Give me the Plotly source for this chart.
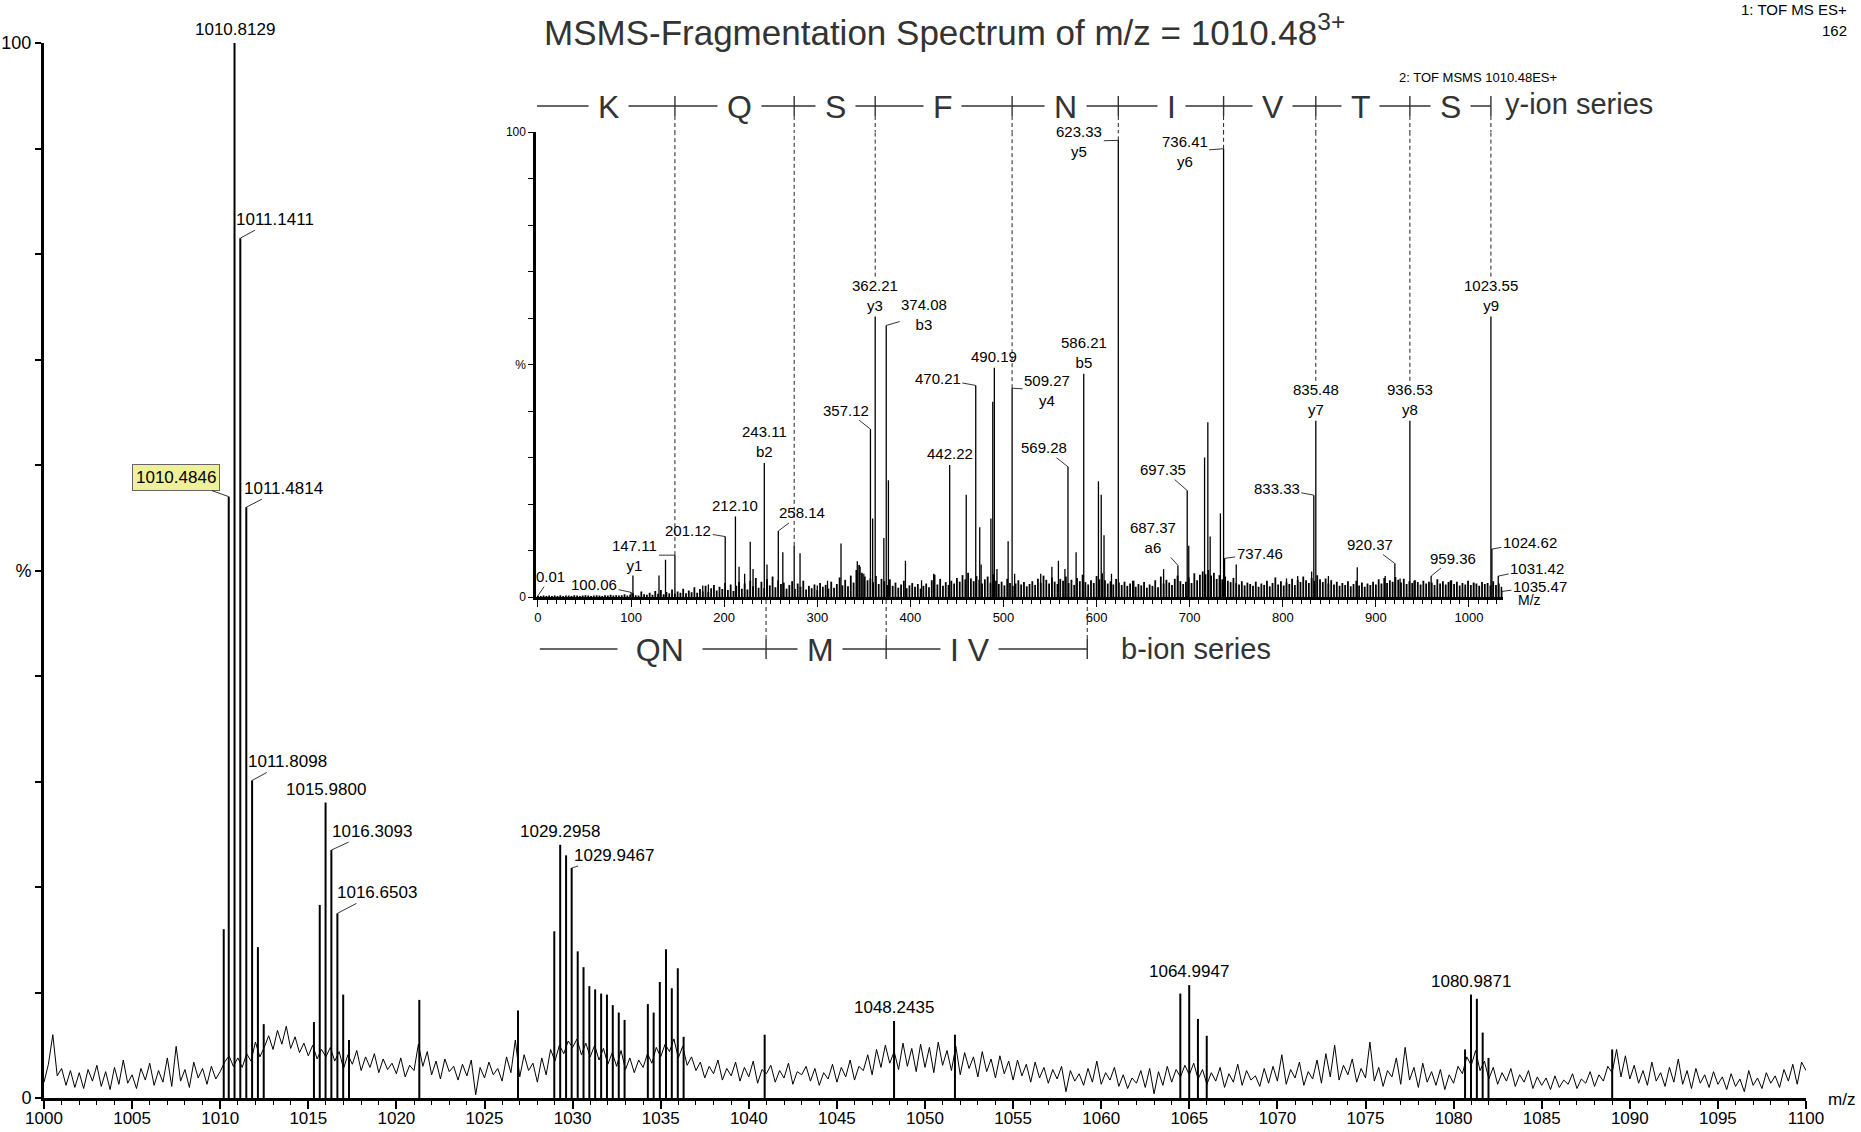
import plotly.graph_objects as go

W, H = 1861, 1132
FONT = "Liberation Sans, Arial, sans-serif"

# ---------------- main (MS survey) spectrum ----------------
main_noise_start = 1000.0
main_noise_step = 0.25
main_noise = [
    1.5, 3.2, 6.0, 2.1, 2.8, 1.2, 2.6, 1.0, 2.4, 0.9, 2.7, 1.6, 3.1, 1.1, 2.5, 0.8, 2.9, 1.3, 3.6, 1.4,
    2.2, 0.9, 2.8, 1.7, 3.3, 1.2, 2.6, 1.5, 3.8, 1.1, 4.9, 1.6, 2.7, 1.0, 3.4, 1.9, 2.8, 1.3, 3.0, 1.8,
    2.5, 3.4, 4.0, 3.0, 3.8, 2.9, 4.2, 3.5, 5.3, 3.9, 4.8, 5.9, 4.6, 6.4, 5.1, 6.8, 4.7, 5.8, 4.3, 5.2,
    4.0, 5.0, 3.7, 4.6, 3.9, 4.8, 3.5, 4.4, 2.8, 4.1, 3.2, 4.5, 2.6, 3.9, 2.9, 4.2, 2.4, 3.7, 2.7, 3.3,
    2.3, 3.8, 2.0, 3.1, 2.6, 5.1, 3.0, 4.4, 2.2, 3.5, 1.8, 3.7, 2.5, 3.0, 1.7, 3.2, 2.1, 3.6, 0.3, 2.9,
    1.9, 3.4, 2.2, 2.8, 1.6, 3.9, 2.4, 5.5, 2.0, 4.1, 2.6, 3.3, 1.5, 3.8, 2.2, 4.6, 3.5, 5.0, 4.2, 5.4,
    4.8, 5.6, 4.1, 5.2, 3.9, 5.0, 3.6, 4.7, 3.2, 4.3, 3.0, 4.5, 2.7, 3.8, 2.4, 3.6, 2.9, 4.2, 3.3, 4.8,
    3.9, 5.1, 4.4, 5.6, 3.8, 4.9, 3.1, 3.9, 2.6, 3.4, 1.9, 3.0, 2.3, 3.6, 1.7, 2.8, 2.1, 3.4, 1.6, 2.9,
    2.0, 3.5, 1.4, 2.7, 2.3, 3.1, 1.5, 2.6, 1.9, 3.3, 1.3, 2.5, 2.2, 3.0, 1.6, 2.8, 1.2, 2.4, 1.8, 3.2,
    1.5, 2.9, 2.0, 3.6, 1.7, 3.0, 2.6, 4.1, 2.2, 4.6, 2.9, 5.0, 3.3, 4.4, 2.7, 5.2, 3.0, 4.7, 2.5, 5.1,
    2.9, 4.8, 2.4, 5.3, 3.1, 4.5, 2.6, 4.9, 2.2, 4.3, 2.8, 3.9, 2.0, 4.4, 2.5, 3.7, 1.9, 4.0, 2.3, 3.5,
    1.7, 3.6, 2.1, 3.2, 1.5, 3.4, 1.9, 2.9, 1.4, 2.7, 1.8, 3.0, 0.6, 2.6, 1.6, 2.3, 1.2, 2.8, 1.5, 3.5,
    1.3, 2.4, 1.7, 2.9, 1.1, 2.2, 0.9, 1.9, 1.4, 2.6, 1.0, 2.8, 0.4, 2.5, 1.2, 3.0, 1.5, 2.7, 2.0, 3.1,
    2.2, 3.3, 1.8, 2.7, 1.3, 2.4, 1.6, 2.9, 1.0, 2.3, 1.5, 3.2, 1.2, 2.6, 1.7, 2.1, 1.1, 2.8, 1.4, 3.0,
    1.6, 4.1, 1.3, 2.7, 1.9, 3.4, 1.2, 2.5, 1.8, 3.6, 1.4, 4.2, 2.0, 5.0, 1.7, 3.1, 2.2, 3.7, 1.5, 2.8,
    1.9, 5.3, 1.6, 2.9, 1.1, 2.6, 2.0, 3.8, 1.3, 4.8, 1.7, 2.9, 1.0, 3.3, 1.5, 2.5, 1.2, 2.7, 0.8, 2.2,
    1.4, 3.0, 2.3, 3.9, 3.1, 4.5, 2.6, 3.5, 1.8, 2.9, 1.3, 2.4, 1.6, 2.8, 1.1, 2.2, 1.5, 2.6, 0.9, 2.0,
    1.2, 1.9, 0.8, 2.1, 1.0, 1.7, 1.3, 2.3, 0.9, 1.8, 1.4, 2.5, 1.1, 2.2, 1.6, 3.0, 2.4, 4.6, 2.0, 4.0,
    1.8, 3.1, 1.4, 2.6, 1.2, 3.4, 1.6, 2.4, 1.1, 2.9, 1.5, 3.7, 1.3, 2.6, 0.9, 2.8, 1.4, 2.2, 1.0, 2.5,
    1.3, 2.0, 0.8, 2.3, 1.1, 1.8, 0.6, 2.6, 1.2, 1.9, 0.9, 2.4, 1.4, 2.1, 1.0, 2.7, 1.6, 3.2, 1.3, 3.4,
    2.6,
]

main_peak_mz = [1010.2, 1010.4846, 1010.8129, 1011.1411, 1011.4814, 1011.8098, 1012.14, 1012.47,
                1015.32, 1015.65, 1015.9800, 1016.3093, 1016.6503, 1016.98, 1017.31,
                1021.3, 1026.9,
                1028.96, 1029.2958, 1029.63, 1029.9467, 1030.29, 1030.62, 1030.95, 1031.28, 1031.62,
                1031.95, 1032.28, 1032.62, 1032.95,
                1034.27, 1034.6, 1034.95, 1035.3, 1035.63, 1035.97, 1036.3,
                1040.9, 1048.2435, 1051.7,
                1064.49, 1064.9947, 1065.49, 1065.99,
                1080.65, 1080.9871, 1081.32, 1081.65, 1081.98,
                1089.0]
main_peak_int = [16.0, 57.0, 100.0, 81.5, 56.0, 30.1, 14.3, 7.0,
                 7.2, 18.3, 28.0, 23.5, 17.5, 9.8, 5.5,
                 9.3, 8.3,
                 15.8, 24.0, 23.0, 21.8, 13.9, 12.4, 10.6, 10.3, 9.9,
                 9.8, 8.8, 8.1, 7.4,
                 8.9, 8.1, 11.0, 14.1, 10.4, 12.3, 5.8,
                 6.0, 7.3, 6.0,
                 9.9, 10.7, 7.5, 5.9,
                 4.6, 9.8, 9.4, 6.2, 3.8,
                 4.6]
main_label_mz = [1010.8129, 1011.1411, 1010.4846, 1011.4814, 1011.8098, 1015.9800, 1016.3093,
                 1016.6503, 1029.2958, 1029.9467, 1048.2435, 1064.9947, 1080.9871]

# ---------------- inset (MSMS fragment) spectrum ----------------
inset_grass_start = 0.0
inset_grass_step = 3.0
inset_grass = [
    0.2, 0.2, 0.3, 0.2, 0.3, 0.2, 0.3, 0.2, 0.4, 0.2, 0.3, 0.3, 0.2, 0.4, 0.3, 0.2, 0.3, 0.4, 0.3, 0.2,
    0.3, 0.4, 0.3, 0.2, 0.4, 0.3, 0.5, 0.3, 0.4, 0.3, 0.4, 0.6, 0.3, 0.5, 0.8, 0.4, 0.3, 1.2, 0.6, 0.5,
    0.9, 0.5, 1.3, 0.7, 1.5, 0.6, 1.1, 0.8, 1.6, 0.7, 1.2, 0.9, 1.8, 0.8, 1.4, 1.0, 2.1, 0.9, 1.7, 1.2,
    2.4, 1.1, 1.9, 2.6, 1.4, 2.2, 1.7, 3.0, 1.5, 2.7, 1.3, 2.4, 3.2, 1.8, 2.9, 1.6, 3.5, 2.3, 4.1, 2.0,
    3.3, 1.9, 3.8, 2.5, 4.4, 2.1, 3.6, 2.8, 3.1, 1.8, 2.6, 3.4, 1.7, 2.9, 2.2, 3.5, 1.6, 2.4, 1.9, 2.7,
    1.5, 3.0, 2.2, 2.6, 1.8, 3.3, 2.0, 2.8, 4.2, 2.5, 3.7, 2.3, 4.6, 3.1, 5.8, 6.9, 5.2, 4.4, 3.6, 4.0,
    3.2, 4.5, 2.8, 3.9, 3.4, 2.6, 3.8, 2.4, 3.1, 2.0, 2.7, 3.5, 1.9, 2.5, 3.0, 2.2, 2.8, 1.8, 2.4, 2.9,
    2.1, 3.6, 4.8, 2.7, 3.9, 2.4, 3.2, 2.6, 3.5, 2.9, 4.1, 3.3, 4.7, 3.8, 5.2, 4.0, 3.4, 4.5, 3.7, 2.9,
    3.8, 4.4, 3.1, 4.9, 3.5, 2.8, 3.3, 2.5, 3.9, 3.0, 2.4, 2.9, 3.6, 2.7, 3.2, 2.3, 2.8, 3.4, 2.6, 3.9,
    3.1, 4.6, 3.7, 2.9, 4.2, 3.3, 2.8, 3.9, 3.5, 4.4, 3.0, 3.7, 2.6, 4.1, 3.4, 4.8, 3.2, 2.7, 3.6, 3.0,
    4.5, 3.8, 5.1, 3.6, 2.9, 3.4, 2.7, 3.9, 3.1, 2.6, 3.3, 2.4, 2.9, 3.5, 2.2, 2.8, 2.5, 3.2, 2.0, 2.7,
    2.4, 3.6, 2.1, 4.4, 2.9, 3.7, 3.1, 2.6, 3.9, 4.6, 3.4, 2.8, 3.3, 4.2, 3.0, 5.1, 3.6, 4.8, 5.5, 4.9,
    5.8, 4.6, 5.2, 3.9, 4.7, 3.8, 4.4, 3.5, 3.2, 4.1, 3.0, 2.7, 3.4, 2.5, 3.1, 2.8, 2.4, 3.3, 2.2, 2.9,
    2.6, 3.5, 2.3, 3.0, 4.2, 2.7, 3.4, 2.5, 3.1, 2.8, 3.9, 2.6, 3.7, 3.2, 4.4, 3.6, 3.0, 4.1, 3.5, 4.7,
    3.8, 3.2, 4.0, 2.9, 3.6, 2.7, 3.3, 2.4, 3.0, 2.6, 3.4, 2.3, 2.8, 3.5, 2.5, 3.1, 2.2, 2.9, 2.6, 3.3,
    2.7, 3.8, 2.9, 4.1, 3.0, 3.6, 3.3, 4.3, 3.7, 3.1, 3.9, 2.8, 3.4, 3.0, 3.6, 3.2, 2.7, 3.5, 2.9, 3.3,
    3.1, 2.6, 3.8, 2.9, 3.4, 2.7, 3.2, 3.6, 2.8, 3.3, 2.5, 3.0, 2.7, 3.5, 2.6, 3.1, 2.9, 2.4, 3.2, 2.8,
    3.0, 2.5, 3.4, 2.6, 2.9, 2.2,
]

inset_peak_mz = [0.01, 100.06, 102.0, 130.0, 137.0, 147.11, 177.0, 183.0, 201.12, 212.10, 216.0,
                 222.0, 228.0, 231.0, 243.11, 246.0, 258.14, 263.0, 275.2, 281.5, 300.0, 311.0,
                 325.5, 343.0, 346.0, 350.0, 357.12, 359.5, 362.21, 371.5, 374.08, 376.4, 394.7,
                 412.0, 425.0, 442.22, 460.0, 470.21, 474.5, 476.0, 486.5, 488.5, 490.19, 493.0,
                 505.0, 509.27, 512.0, 540.0, 552.0, 559.0, 566.0, 569.28, 578.0, 586.21, 602.0,
                 605.0, 608.0, 616.0, 623.33, 640.0, 672.0, 687.37, 697.35, 699.0, 716.0, 719.5,
                 722.0, 733.0, 736.41, 737.46, 750.0, 804.0, 816.0, 831.0, 833.33, 835.48, 849.0,
                 880.0, 910.0, 920.37, 926.0, 936.53, 941.0, 959.36, 980.0, 1005.0, 1023.55,
                 1024.62, 1031.42, 1035.47]
inset_peak_int = [0.3, 1.0, 4.6, 4.6, 8.0, 9.0, 2.5, 2.7, 13.0, 17.3, 6.5,
                  5.0, 11.9, 6.0, 28.8, 7.0, 14.2, 9.6, 11.0, 9.4, 2.5, 3.5,
                  11.5, 7.7, 6.5, 5.0, 36.1, 16.9, 60.3, 12.7, 58.4, 25.1, 7.8,
                  3.6, 5.0, 28.4, 22.0, 45.5, 15.0, 7.0, 16.9, 42.0, 49.3, 6.0,
                  12.0, 44.9, 5.0, 5.0, 6.5, 7.8, 6.0, 28.0, 9.6, 48.0, 24.9,
                  22.0, 13.3, 5.0, 98.2, 3.5, 6.0, 6.8, 22.9, 11.0, 30.0, 37.6,
                  13.0, 18.0, 96.4, 8.3, 7.0, 4.0, 4.5, 5.5, 21.9, 37.9, 4.5,
                  6.4, 4.5, 7.2, 4.0, 37.9, 3.5, 4.5, 3.5, 3.0, 60.3,
                  10.3, 4.5, 1.2]

inset_label_mz = [0.01, 100.06, 147.11, 201.12, 212.10, 243.11, 258.14, 357.12, 362.21, 374.08,
                  442.22, 470.21, 490.19, 509.27, 569.28, 586.21, 623.33, 687.37, 697.35, 736.41,
                  737.46, 833.33, 835.48, 920.37, 936.53, 959.36, 1023.55, 1024.62, 1031.42, 1035.47]
inset_label_ion = ['', '', 'y1', '', '', 'b2', '', '', 'y3', 'b3',
                   '', '', '', 'y4', '', 'b5', 'y5', 'a6', '', 'y6',
                   '', '', 'y7', '', 'y8', '', 'y9', '', '', '']

y_ion_mz = [147.11, 275.2, 362.21, 509.27, 623.33, 736.41, 835.48, 936.53, 1023.55]
y_seq = ['K', 'Q', 'S', 'F', 'N', 'I', 'V', 'T', 'S']
y_seq_mz = [76, 217, 320, 435, 567, 681, 789, 884, 980]
b_ion_mz = [245, 374, 590]
b_seq = ['QN', 'M', 'I V']
b_seq_mz = [131, 303, 464]

# ---------------- layout geometry (pixels) ----------------
def py(p):
    return 1 - p / H

def pxx(p):
    return p / W

MAIN_X = [pxx(44), pxx(1806)]
MAIN_Y = [py(1098), py(43)]
INS_X = [pxx(536.1), pxx(1502.5)]
INS_TOP, INS_BOT = 132, 597
INS_Y = [py(INS_BOT), py(INS_TOP)]
SEQ_Y = 106
B_Y = 649
NB = '\u00a0'

# placement of labels (text-centre offset in px from peak top; None = centred above)
main_label_pos = {
    1010.8129: None, 1011.1411: (35, -19), 1010.4846: (-53, -19), 1011.4814: (37, -19),
    1011.8098: (35, -19), 1015.9800: None, 1016.3093: (41, -19), 1016.6503: (40, -21),
    1029.2958: None, 1029.9467: (42, -13), 1048.2435: None, 1064.9947: None, 1080.9871: None,
}
inset_label_pos = {
    0.01: (13, -19), 100.06: (-37, -8), 147.11: (-40, 0), 201.12: (-37, -6), 212.10: None,
    243.11: None, 258.14: (24, -18), 357.12: (-24, -19), 362.21: None, 374.08: (38, -11),
    442.22: None, 470.21: (-38, -7), 490.19: None, 509.27: (35, 2), 569.28: (-24, -19),
    586.21: None, 623.33: (-39, 1), 687.37: (-25, -28), 697.35: (-24, -21), 736.41: (-39, 3),
    737.46: (35, -5), 833.33: (-37, -7), 835.48: None, 920.37: (-25, -19), 936.53: None,
    959.36: (22, -18), 1023.55: None, 1024.62: (38, -7), 1031.42: (39, -8), 1035.47: (38, -5),
}


def sticks(xs, ys):
    X, Y = [], []
    for x, y in zip(xs, ys):
        X += [x, x, None]
        Y += [0, y, None]
    return X, Y


fig = go.Figure()

main_noise_x = [main_noise_start + i * main_noise_step for i in range(len(main_noise))]
fig.add_trace(go.Scatter(x=main_noise_x, y=main_noise, mode='lines',
                         line=dict(color='black', width=1), xaxis='x', yaxis='y',
                         hoverinfo='skip', showlegend=False))
sx, sy = sticks(main_peak_mz, main_peak_int)
fig.add_trace(go.Scatter(x=sx, y=sy, mode='lines', line=dict(color='black', width=2),
                         xaxis='x', yaxis='y', hoverinfo='skip', showlegend=False))

grass_x = [inset_grass_start + i * inset_grass_step for i in range(len(inset_grass))]
gx, gy = sticks(grass_x, inset_grass)
fig.add_trace(go.Scatter(x=gx, y=gy, mode='lines', line=dict(color='black', width=1.8),
                         xaxis='x2', yaxis='y2', hoverinfo='skip', showlegend=False))
ix, iy = sticks(inset_peak_mz, inset_peak_int)
fig.add_trace(go.Scatter(x=ix, y=iy, mode='lines', line=dict(color='black', width=1.3),
                         xaxis='x2', yaxis='y2', hoverinfo='skip', showlegend=False))

main_h = dict(zip(main_peak_mz, main_peak_int))
ins_h = dict(zip(inset_peak_mz, inset_peak_int))

ann = []
shapes = []


def font(size, color='black'):
    return dict(family=FONT, size=size, color=color)


DASH = dict(color='#222222', width=1, dash='4px,3px')
SEQ_LINE = dict(color='#333333', width=1.4)

# y-ion series line, ticks and dashed drops (letters first so labels draw above them)
shapes.append(dict(type='line', xref='x2', yref='paper', x0=-1, x1=y_ion_mz[-1],
                   y0=py(SEQ_Y), y1=py(SEQ_Y), line=SEQ_LINE))
for m in y_ion_mz:
    centred = inset_label_pos.get(m, 0) is None
    h_end = ins_h[m] + (8.6 if centred else 0)
    shapes.append(dict(type='line', xref='x2', yref='paper', x0=m, x1=m,
                       y0=py(SEQ_Y - 10), y1=py(SEQ_Y + 10), line=SEQ_LINE))
    shapes.append(dict(type='line', xref='x2', yref='paper', x0=m, x1=m,
                       y0=py(SEQ_Y + 10), y1=py(INS_TOP), line=DASH))
    shapes.append(dict(type='line', xref='x2', yref='y2', x0=m, x1=m,
                       y0=h_end, y1=100, line=DASH))
for t, m in zip(y_seq, y_seq_mz):
    ann.append(dict(x=m, y=py(SEQ_Y), xref='x2', yref='paper', text=NB + t + NB, showarrow=False,
                    xanchor='center', yanchor='middle', yshift=-1, bgcolor='white', borderpad=0,
                    font=font(32, '#333333')))
ann.append(dict(x=y_ion_mz[-1], y=py(SEQ_Y), xref='x2', yref='paper', text='y-ion series',
                showarrow=False, xanchor='left', yanchor='middle', xshift=12, yshift=2,
                font=font(29, '#333333')))

# b-ion series
shapes.append(dict(type='line', xref='x2', yref='paper', x0=2, x1=b_ion_mz[-1],
                   y0=py(B_Y), y1=py(B_Y), line=SEQ_LINE))
for m in b_ion_mz:
    shapes.append(dict(type='line', xref='x2', yref='paper', x0=m, x1=m,
                       y0=py(B_Y - 10), y1=py(B_Y + 10), line=SEQ_LINE))
    shapes.append(dict(type='line', xref='x2', yref='paper', x0=m, x1=m,
                       y0=py(INS_BOT + 3), y1=py(B_Y - 10), line=DASH))
for t, m in zip(b_seq, b_seq_mz):
    pad = NB * 2 if t == 'QN' else NB
    ann.append(dict(x=m, y=py(B_Y), xref='x2', yref='paper', text=pad + t + pad,
                    showarrow=False, xanchor='center', yanchor='middle', yshift=-1,
                    bgcolor='white', borderpad=0, font=font(32, '#333333')))
ann.append(dict(x=b_ion_mz[-1], y=py(B_Y), xref='x2', yref='paper', text='b-ion series',
                showarrow=False, xanchor='left', yanchor='middle', xshift=32, yshift=0,
                font=font(29, '#333333')))

# main labels
for m in main_label_mz:
    pos = main_label_pos[m]
    txt = f"{m:.4f}"
    extra = {}
    if m == 1010.4846:
        extra = dict(bgcolor='#eff09a', bordercolor='#666666', borderwidth=1, borderpad=3)
    if pos is None:
        ann.append(dict(x=m, y=main_h[m], xref='x', yref='y', text=txt, showarrow=False,
                        xanchor='center', yanchor='bottom', yshift=2, font=font(17), **extra))
    else:
        ann.append(dict(x=m, y=main_h[m], xref='x', yref='y', text=txt, showarrow=True,
                        ax=pos[0], ay=pos[1], arrowhead=0, arrowwidth=0.8, arrowcolor='black',
                        standoff=0, font=font(17), **extra))

# inset labels
for m, ion in zip(inset_label_mz, inset_label_ion):
    pos = inset_label_pos[m]
    txt = f"{m:.2f}" + (f"<br>{ion}" if ion else "")
    if pos is None:
        ann.append(dict(x=m, y=ins_h[m], xref='x2', yref='y2', text=txt, showarrow=False,
                        xanchor='center', yanchor='bottom', yshift=1, font=font(15)))
    else:
        ann.append(dict(x=m, y=ins_h[m], xref='x2', yref='y2', text=txt, showarrow=True,
                        ax=pos[0], ay=pos[1], arrowhead=0, arrowwidth=0.8, arrowcolor='black',
                        standoff=0, font=font(15)))

# titles and corner texts
ann.append(dict(x=pxx(945), y=py(30), xref='paper', yref='paper',
                text='MSMS-Fragmentation Spectrum of m/z = 1010.48<sup>3+</sup>',
                showarrow=False, xanchor='center', yanchor='middle', font=font(35, '#333333')))
ann.append(dict(x=pxx(1849), y=py(10), xref='paper', yref='paper', text='1: TOF MS ES+',
                showarrow=False, xanchor='right', yanchor='middle', font=font(15)))
ann.append(dict(x=pxx(1849), y=py(31), xref='paper', yref='paper', text='162',
                showarrow=False, xanchor='right', yanchor='middle', font=font(15)))
ann.append(dict(x=pxx(1478), y=py(77), xref='paper', yref='paper', text='2: TOF MSMS 1010.48ES+',
                showarrow=False, xanchor='center', yanchor='middle', font=font(13)))
ann.append(dict(x=pxx(1516), y=py(600), xref='paper', yref='paper', text='M/z',
                showarrow=False, xanchor='left', yanchor='middle', font=font(14)))
ann.append(dict(x=pxx(1826), y=py(1099), xref='paper', yref='paper', text='m/z',
                showarrow=False, xanchor='left', yanchor='middle', font=font(17)))

main_ytext = ['0', '', '', '', '', '%', '', '', '', '', '100']

fig.update_layout(
    template='none',
    width=W, height=H, autosize=False,
    margin=dict(l=0, r=0, t=0, b=0, pad=0, autoexpand=False),
    paper_bgcolor='white', plot_bgcolor='rgba(0,0,0,0)',
    showlegend=False,
    font=dict(family=FONT, color='black'),
    xaxis=dict(domain=MAIN_X, range=[1000, 1100], anchor='y', showline=True, linecolor='black',
               linewidth=3, ticks='outside', ticklen=8, tickwidth=1.5, tickcolor='black',
               tick0=1000, dtick=5, tickfont=font(17), ticklabelstandoff=-5,
               showgrid=False, zeroline=False,
               minor=dict(dtick=1, ticklen=4, tickwidth=1, tickcolor='black', ticks='outside'),
               automargin=False, fixedrange=True),
    yaxis=dict(domain=MAIN_Y, range=[0, 100], anchor='x', showline=True, linecolor='black',
               linewidth=3, ticks='outside', ticklen=6, tickwidth=1.5, tickcolor='black',
               tickvals=list(range(0, 101, 10)), ticktext=main_ytext, tickfont=font(18),
               showgrid=False, zeroline=False, automargin=False, fixedrange=True),
    xaxis2=dict(domain=INS_X, range=[-2, 1036], anchor='y2', showline=True, linecolor='black',
                linewidth=2.5, ticks='outside', ticklen=7, tickwidth=1.3, tickcolor='black',
                tick0=0, dtick=100, tickfont=font(13), showgrid=False, zeroline=False,
                minor=dict(dtick=10, ticklen=4, tickwidth=1, tickcolor='black', ticks='outside'),
                automargin=False, fixedrange=True),
    yaxis2=dict(domain=INS_Y, range=[0, 100], anchor='x2', showline=True, linecolor='black',
                linewidth=2.5, ticks='outside', ticklen=5, tickwidth=1.3, tickcolor='black',
                tickvals=list(range(0, 101, 10)), ticktext=main_ytext, tickfont=font(12),
                showgrid=False, zeroline=False, automargin=False, fixedrange=True),
    annotations=ann,
    shapes=shapes,
)

fig.write_html("out.html", config={'displayModeBar': False})
